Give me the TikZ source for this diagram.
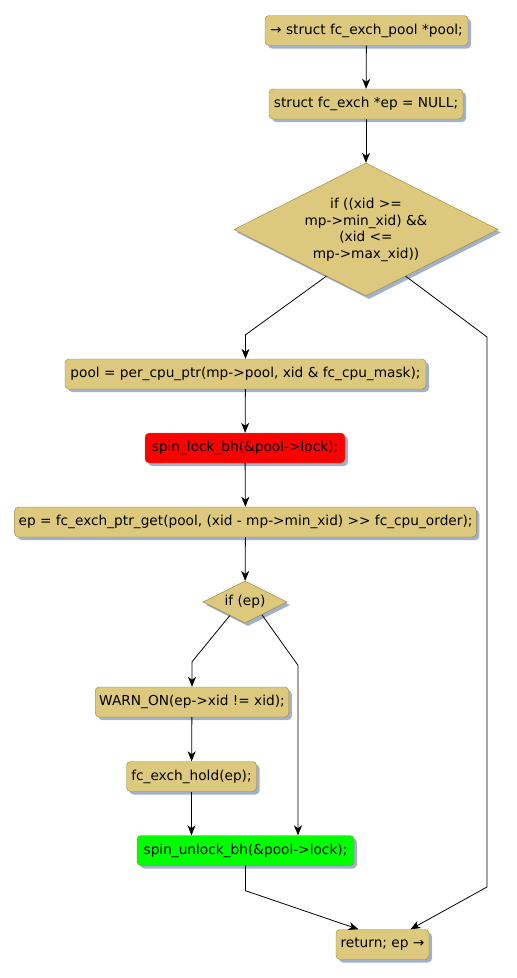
\documentclass[tikz,border=0pt]{standalone}
\usepackage{fontspec}
\setmainfont{DejaVu Sans}
\usetikzlibrary{shapes.geometric,shadows,arrows.meta,calc}
\definecolor{boxfill}{RGB}{221,201,125}
\definecolor{boxdraw}{RGB}{152,130,56}
\definecolor{shadowc}{RGB}{160,176,205}
\begin{document}
\begin{tikzpicture}[x=1pt,y=-1pt,
  every node/.style={font=\fontsize{13.7}{16.6}\selectfont, text=black},
  shad/.style={general shadow={fill=shadowc, shadow xshift=3pt, shadow yshift=-3pt}},
  act/.style={draw=boxdraw, fill=boxfill, rounded corners=4pt, minimum height=30pt, inner xsep=4pt, inner ysep=0pt, shad},
  dec/.style={diamond, draw=boxdraw, fill=boxfill, inner sep=0pt, shad},
  flow/.style={draw, line width=0.8pt, -{Stealth[length=10pt,width=8pt,inset=3pt]}}
]
\useasboundingbox (0,0) rectangle (517,978);
\node[act, minimum width=203pt] (start) at (366.5,30.5) {→ struct fc\_exch\_pool *pool;};
\node[act, minimum width=194pt] (ep0) at (366,104) {struct fc\_exch *ep = NULL;};
\node[dec, minimum width=264pt, minimum height=133pt] (d1) at (366,229.5) {};
\node[align=center, inner sep=0pt] (d1t) at (366,230) {if ((xid >=\\mp->min\_xid) \&\&\\(xid <=\\mp->max\_xid))};
\node[act, minimum width=361pt] (pool) at (245.5,374) {pool = per\_cpu\_ptr(mp->pool, xid \& fc\_cpu\_mask);};
\node[act, minimum width=200pt, fill=red] (lock) at (245,448) {spin\_lock\_bh(\&pool->lock);};
\node[act, minimum width=461pt] (get) at (245.5,522) {ep = fc\_exch\_ptr\_get(pool, (xid - mp->min\_xid) >{}> fc\_cpu\_order);};
\node[dec, minimum width=84pt, minimum height=42pt] (d2) at (245,602) {};
\node[inner sep=0pt] (d2t) at (245,602) {if (ep)};
\node[act, minimum width=191pt] (warn) at (192,702) {WARN\_ON(ep->xid != xid);};
\node[act, minimum width=130pt] (hold) at (191.5,776.5) {fc\_exch\_hold(ep);};
\node[act, minimum width=217pt, fill=green] (unlock) at (245.5,850.5) {spin\_unlock\_bh(\&pool->lock);};
\node[act, minimum width=93pt] (ret) at (382.5,944.5) {return; ep →};

\coordinate (d1l) at ($(d1.west)!0.7!(d1.south)$);
\coordinate (d1r) at ($(d1.south)!0.3!(d1.east)$);
\coordinate (d2l) at ($(d2.west)!0.64!(d2.south)$);
\coordinate (d2r) at ($(d2.south)!0.4!(d2.east)$);
\coordinate (rb1) at (487,337);
\coordinate (rb2) at (487,887);
\coordinate (retr) at ([xshift=28pt]ret.north);
\coordinate (retl) at ([xshift=-24pt]ret.north);

\path[flow] (start) -- (ep0);
\path[flow] (ep0) -- (d1);
\path[flow] (d1l) -- ([yshift=24pt]pool.north) -- (pool.north);
\path[flow] (pool) -- (lock);
\path[flow] (lock) -- (get);
\path[flow] (get) -- (d2);
\path[flow] (d2l) -- ([yshift=25pt]warn.north) -- (warn.north);
\path[flow] (d2r) -- ($(unlock.north)+(52.5,-170)$) -- ($(unlock.north)+(52.5,0)$);
\path[flow] (warn) -- (hold);
\path[flow] (hold.south) -- (unlock.north -| hold.south);
\path[flow] (d1r) -- (rb1) -- (rb2) -- (retr);
\path[flow] (unlock.south) -- ([yshift=-25pt]unlock.south) -- (retl);
\end{tikzpicture}
\end{document}
